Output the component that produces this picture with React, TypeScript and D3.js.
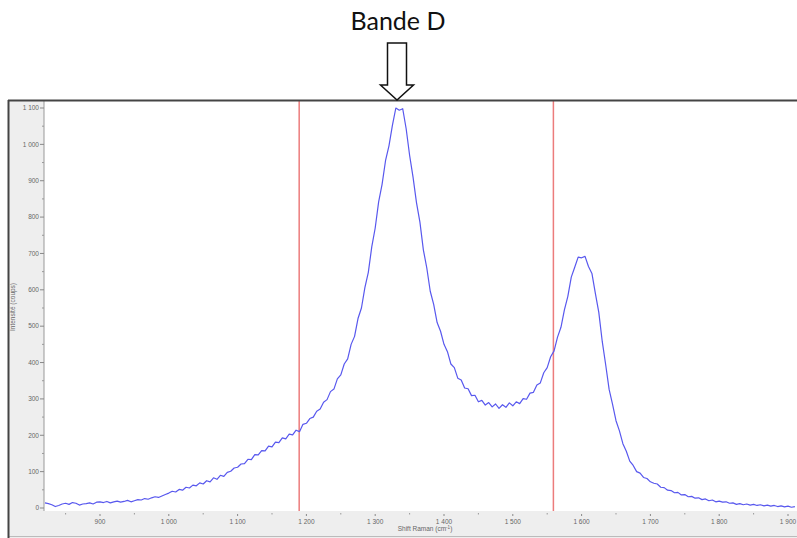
import React from "react";
import * as d3 from "d3";

// Raman spectrum, sampled every 5 cm-1 starting at 820 cm-1
const shiftStart = 820;
const shiftStep = 5;
const intensity: number[] = [
  // 820-900
  14, 12, 9, 4, 7, 11, 13, 10, 15, 13, 8, 11, 12, 14, 11, 16, 17,
  // 905-1000
  15, 18, 14, 17, 19, 16, 18, 21, 17, 20, 23, 22, 26, 24, 28, 31, 29, 33, 37, 41,
  // 1005-1100
  46, 44, 51, 49, 57, 55, 63, 61, 69, 66, 75, 72, 83, 79, 90, 87, 98, 101, 110, 112,
  // 1105-1200
  121, 122, 134, 133, 147, 146, 158, 157, 170, 168, 181, 180, 193, 190, 203, 201, 214, 210, 230, 233,
  // 1205-1300
  246, 250, 266, 272, 291, 298, 320, 327, 355, 366, 396, 410, 450, 472, 521, 550, 606, 648, 718, 770,
  // 1305-1400
  842, 890, 955, 996, 1052, 1100, 1094, 1098, 1043, 970, 910, 840, 786, 710, 660, 596, 560, 510, 486, 450,
  // 1405-1500
  430, 396, 386, 357, 352, 330, 328, 309, 310, 292, 296, 283, 290, 278, 286, 274, 284, 277, 289, 281,
  // 1505-1600
  292, 287, 301, 299, 316, 318, 338, 344, 372, 386, 416, 432, 470, 497, 545, 582, 635, 662, 690, 688,
  // 1605-1700
  692, 664, 645, 590, 538, 458, 394, 326, 285, 240, 212, 177, 156, 129, 117, 100, 96, 84, 81, 72,
  // 1705-1800
  68, 66, 57, 56, 49, 48, 42, 43, 36, 37, 31, 32, 27, 28, 23, 25, 20, 22, 17, 19,
  // 1805-1910
  16, 17, 13, 14, 10, 12, 9, 11, 8, 10, 7, 9, 6, 8, 5, 7, 4, 6, 3, 5, 2, 4,
];

const xTicks = [900, 1000, 1100, 1200, 1300, 1400, 1500, 1600, 1700, 1800, 1900];
const xMinorTicks = [850, 950, 1050, 1150, 1250, 1350, 1450, 1550, 1650, 1750, 1850];
const yTicks = [0, 100, 200, 300, 400, 500, 600, 700, 800, 900, 1000, 1100];
const yMinorTicks = [50, 150, 250, 350, 450, 550, 650, 750, 850, 950, 1050];
const redMarkers = [1189.5, 1559];

const title = "Bande D";
const xLabel = "Shift Raman (cm";
const yLabel = "Intensité (coups)";

const W = 797;
const H = 538;

const locale = d3.formatLocale({
  decimal: ",",
  thousands: " ",
  grouping: [3],
  currency: ["", ""],
});
const fmt = locale.format(",");

export default function App() {
  const x = d3.scaleLinear().domain([900, 1900]).range([100, 788]);
  const y = d3.scaleLinear().domain([0, 1100]).range([508, 108]);

  const pts: [number, number][] = intensity.map((v, i) => [shiftStart + i * shiftStep, v]);
  const line = d3
    .line<[number, number]>()
    .x((d) => x(d[0]))
    .y((d) => y(d[1]));

  const plotLeft = 44;
  const plotTop = 101;
  const plotBottom = 511;

  const arrowCx = 397;
  const arrowPath = [
    [arrowCx - 9.5, 43],
    [arrowCx + 9.5, 43],
    [arrowCx + 9.5, 85],
    [arrowCx + 16.5, 85],
    [arrowCx, 100],
    [arrowCx - 16.5, 85],
    [arrowCx - 9.5, 85],
  ]
    .map((p, i) => (i === 0 ? "M" : "L") + p[0] + "," + p[1])
    .join("") + "Z";

  return (
    <svg
      width={W}
      height={H}
      style={{ position: "absolute", left: 0, top: 0, background: "#fff" }}
      fontFamily="Liberation Sans, Arial, sans-serif"
    >
      {/* gray panels */}
      <rect x={9} y={plotTop} width={plotLeft - 9} height={H - plotTop} fill="#eeeeee" />
      <rect x={9} y={plotBottom} width={W - 9} height={H - plotBottom} fill="#eeeeee" />
      <line x1={9} x2={W} y1={536.5} y2={536.5} stroke="#bbbbbb" strokeWidth={1} />

      <defs>
        <clipPath id="plotclip">
          <rect x={plotLeft} y={plotTop} width={W - plotLeft} height={plotBottom - plotTop} />
        </clipPath>
      </defs>

      {/* red markers */}
      {redMarkers.map((m) => (
        <line
          key={m}
          x1={x(m)}
          x2={x(m)}
          y1={plotTop}
          y2={plotBottom}
          stroke="#ec7c7c"
          strokeWidth={1.5}
        />
      ))}

      {/* spectrum */}
      <path
        d={line(pts) || ""}
        fill="none"
        stroke="#5858ee"
        strokeWidth={1.2}
        strokeLinejoin="round"
        clipPath="url(#plotclip)"
      />

      {/* y axis */}
      <line x1={plotLeft} x2={plotLeft} y1={plotTop} y2={plotBottom} stroke="#999" strokeWidth={1} />
      {yTicks.map((t) => (
        <g key={t}>
          <line x1={plotLeft - 4} x2={plotLeft} y1={y(t)} y2={y(t)} stroke="#888" />
          <text
            x={plotLeft - 5}
            y={y(t)}
            dy="0.35em"
            textAnchor="end"
            fontSize={6.5}
            fill="#666"
          >
            {fmt(t)}
          </text>
        </g>
      ))}
      {yMinorTicks.map((t) => (
        <line key={t} x1={plotLeft - 2} x2={plotLeft} y1={y(t)} y2={y(t)} stroke="#999" />
      ))}
      <text
        transform={`translate(15,307) rotate(-90)`}
        textAnchor="middle"
        fontSize={6.5}
        fill="#666"
      >
        {yLabel}
      </text>

      {/* x axis */}
      {xTicks.map((t) => (
        <g key={t}>
          <line x1={x(t)} x2={x(t)} y1={514} y2={516} stroke="#888" />
          <text x={x(t)} y={524} textAnchor="middle" fontSize={6.5} fill="#666">
            {fmt(t)}
          </text>
        </g>
      ))}
      {xMinorTicks.map((t) => (
        <line key={t} x1={x(t)} x2={x(t)} y1={513} y2={514.5} stroke="#999" />
      ))}
      <text x={425} y={531} textAnchor="middle" fontSize={6.5} fill="#666">
        {xLabel}
        <tspan dy={-2.5} fontSize={4.5}>-1</tspan>
        <tspan dy={2.5}>)</tspan>
      </text>

      {/* frame */}
      <line x1={8} x2={W} y1={100.5} y2={100.5} stroke="#444" strokeWidth={2} />
      <line x1={8.5} x2={8.5} y1={100} y2={H} stroke="#444" strokeWidth={2} />

      {/* annotation */}
      <text
        x={398}
        y={30}
        textAnchor="middle"
        fontSize={25}
        fontFamily="Lato, Open Sans, sans-serif"
        fill="#111"
      >
        {title}
      </text>
      <path d={arrowPath} fill="#fff" stroke="#111" strokeWidth={1.5} strokeLinejoin="miter" />
    </svg>
  );
}
